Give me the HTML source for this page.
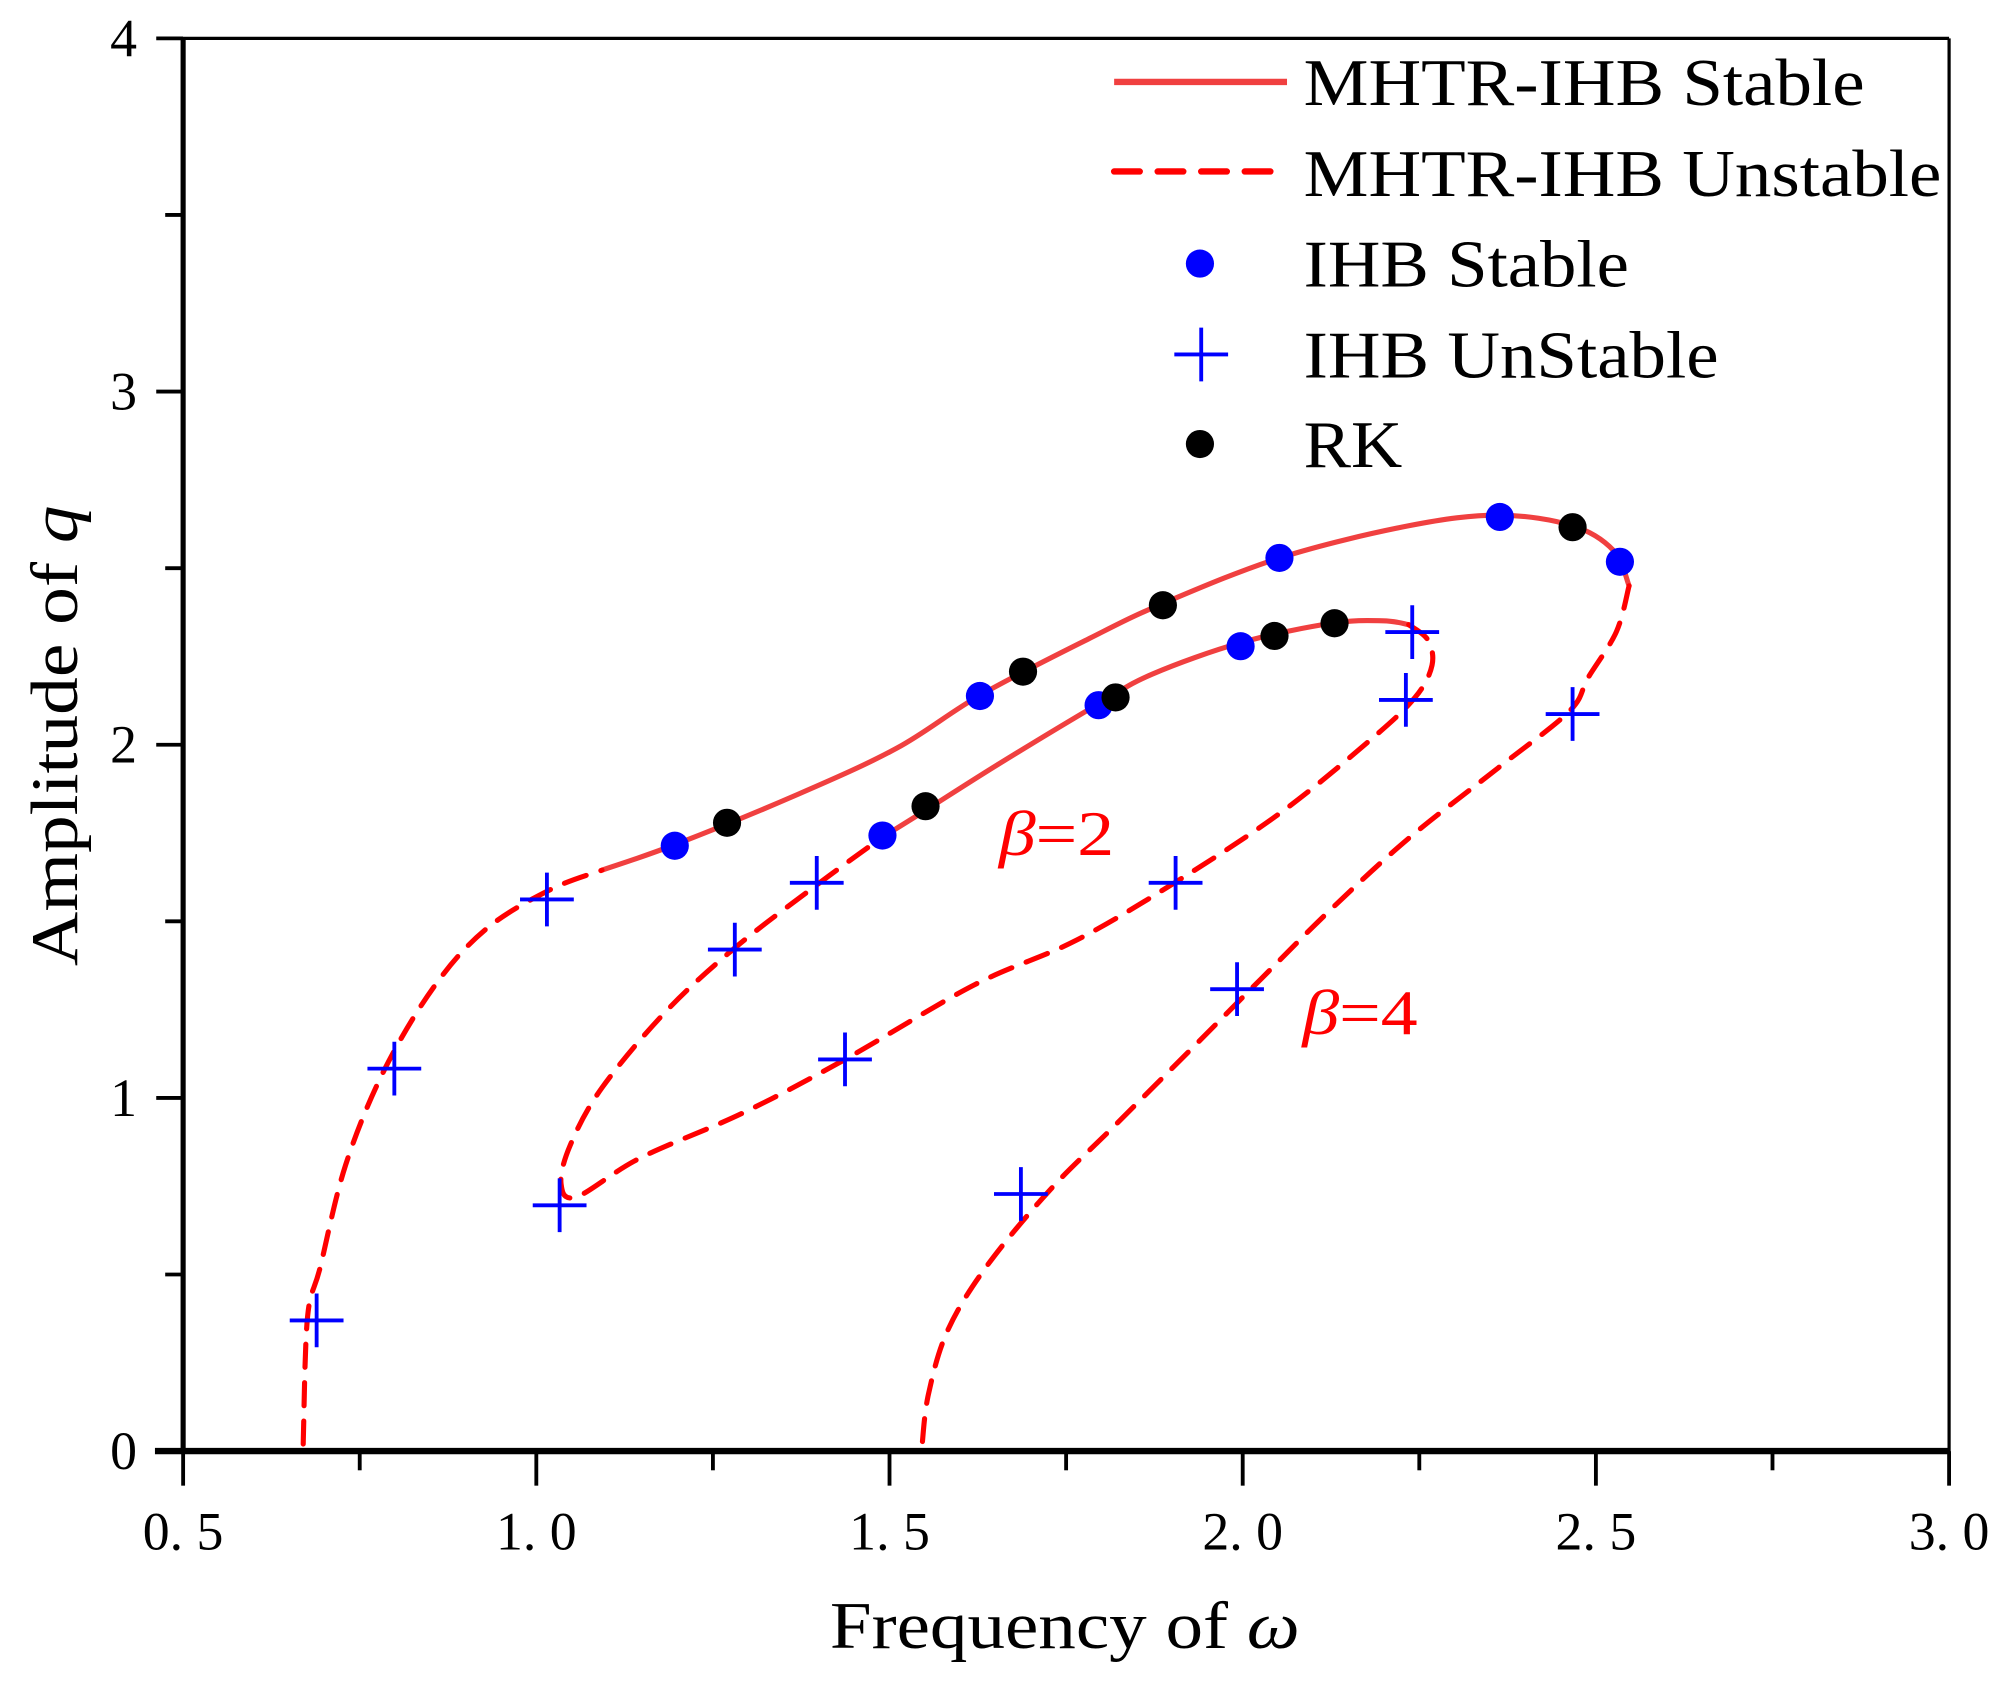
<!DOCTYPE html>
<html><head><meta charset="utf-8"><style>
html,body{margin:0;padding:0;background:#fff;}
svg{display:block;}
text{font-family:"Liberation Serif",serif;}
</style></head><body>
<svg id="chart" width="2008" height="1684" viewBox="0 0 1568 1316" preserveAspectRatio="none" xmlns="http://www.w3.org/2000/svg">
<g id="plot"></g>
<g id="axes"></g>
<g id="legend">
  <line x1="870" y1="64" x2="1005" y2="64" stroke="#f04040" stroke-width="5"/>
  <text x="1018" y="82" font-size="52" textLength="438" lengthAdjust="spacingAndGlyphs">MHTR-IHB Stable</text>
  <line x1="870" y1="134" x2="1005" y2="134" stroke="#ff0000" stroke-width="5" stroke-dasharray="20,14" stroke-linecap="round"/>
  <text x="1018" y="153" font-size="52" textLength="498" lengthAdjust="spacingAndGlyphs">MHTR-IHB Unstable</text>
  <circle cx="937" cy="206" r="11" fill="#0000ff"/>
  <text x="1018" y="224" font-size="52" textLength="254" lengthAdjust="spacingAndGlyphs">IHB Stable</text>
  <path d="M917 277H959M938 256V298" stroke="#0000ff" stroke-width="3"/>
  <text x="1018" y="295" font-size="52" textLength="324" lengthAdjust="spacingAndGlyphs">IHB UnStable</text>
  <circle cx="937" cy="347" r="11" fill="#000"/>
  <text x="1018" y="365" font-size="52" textLength="77" lengthAdjust="spacingAndGlyphs">RK</text>
</g>
<text x="780" y="668" font-size="50" fill="#ff0000" textLength="90" lengthAdjust="spacingAndGlyphs"><tspan font-style="italic">β</tspan>=2</text>
<text x="1017" y="808" font-size="50" fill="#ff0000" textLength="90" lengthAdjust="spacingAndGlyphs"><tspan font-style="italic">β</tspan>=4</text>
<text x="648" y="1288" font-size="52" textLength="367" lengthAdjust="spacingAndGlyphs">Frequency of  <tspan font-style="italic">ω</tspan></text>
<text transform="translate(60,755) rotate(-90)" font-size="52" textLength="360" lengthAdjust="spacingAndGlyphs">Amplitude of <tspan font-style="italic">q</tspan></text>
</svg>
<script>
const xTicks=[0.5,1.0,1.5,2.0,2.5,3.0];
const xTickLabels=["0. 5","1. 0","1. 5","2. 0","2. 5","3. 0"];
const yTicks=[0,1,2,3,4];
const yTickLabels=["0","1","2","3","4"];
const beta4StableX=[1.093,1.196,1.365,1.51,1.628,1.782,1.887,2.054,2.235,2.362,2.467,2.525,2.547];
const beta4StableY=[1.645,1.717,1.855,1.99,2.14,2.30,2.40,2.53,2.62,2.65,2.62,2.55,2.45];
const beta4UnstableLowX=[0.670,0.676,0.694,0.730,0.785,0.857,0.930,1.02,1.093];
const beta4UnstableLowY=[0.02,0.377,0.52,0.81,1.08,1.32,1.48,1.59,1.645];
const beta4UnstableHighX=[2.547,2.529,2.489,2.462,2.362,2.235,2.126,2.026,1.927,1.818,1.727,1.637,1.582,1.555,1.546];
const beta4UnstableHighY=[2.45,2.32,2.19,2.094,1.935,1.735,1.536,1.337,1.138,0.92,0.739,0.522,0.34,0.16,0.015];
const beta2StableX=[1.488,1.546,1.655,1.796,1.872,1.999,2.126,2.199,2.235];
const beta2StableY=[1.736,1.808,1.946,2.116,2.20,2.29,2.344,2.351,2.34];
const beta2UnstableX=[2.235,2.262,2.268,2.244,2.181,2.054,1.909,1.764,1.619,1.437,1.292,1.147,1.057,1.035,1.048,1.093,1.184,1.283,1.401,1.488];
const beta2UnstableY=[2.34,2.297,2.225,2.134,2.014,1.808,1.616,1.446,1.319,1.109,0.957,0.83,0.72,0.757,0.866,1.029,1.246,1.428,1.609,1.736];
const ihbStableX=[1.196,1.490,1.628,1.796,1.997,2.052,2.364,2.534];
const ihbStableY=[1.714,1.743,2.138,2.112,2.279,2.529,2.645,2.518];
const rkX=[1.270,1.551,1.689,1.820,1.887,2.045,2.130,2.467];
const rkY=[1.779,1.826,2.207,2.134,2.395,2.308,2.344,2.616];
const ihbUnstableX=[0.689,0.799,1.015,1.033,1.281,1.397,1.437,1.905,1.992,1.686,2.240,2.231,2.467];
const ihbUnstableY=[0.370,1.083,1.562,0.696,1.42,1.609,1.109,1.609,1.308,0.728,2.319,2.127,2.087];

const X0=143,X1=1522,Y0=1134,Y1=30;
function sx(v){return X0+(v-0.5)/2.5*(X1-X0);}
function sy(v){return Y0-v/4*(Y0-Y1);}
const NS="http://www.w3.org/2000/svg";
const plot=document.getElementById('plot'),axes=document.getElementById('axes');
function mk(tag,attrs,parent){const e=document.createElementNS(NS,tag);for(const k in attrs)e.setAttribute(k,attrs[k]);parent.appendChild(e);return e;}
function smooth(xs,ys){
  const p=xs.map((x,i)=>[sx(x),sy(ys[i])]);
  let d="M"+p[0][0]+" "+p[0][1];
  for(let i=0;i<p.length-1;i++){
    const a=p[Math.max(i-1,0)],b=p[i],c=p[i+1],e=p[Math.min(i+2,p.length-1)];
    const c1=[b[0]+(c[0]-a[0])/6,b[1]+(c[1]-a[1])/6],c2=[c[0]-(e[0]-b[0])/6,c[1]-(e[1]-b[1])/6];
    d+=" C"+c1[0]+" "+c1[1]+" "+c2[0]+" "+c2[1]+" "+c[0]+" "+c[1];
  }
  return d;
}
function curve(xs,ys,name,stable){
  const el=mk('path',{d:smooth(xs,ys),fill:'none',stroke:stable?'#f04040':'#ff0000','stroke-width':4,'stroke-dasharray':stable?'none':'18,12','stroke-linecap':'round'},plot);
  
  
}
curve(beta4StableX,beta4StableY,'beta4-stable-curve',true);
curve(beta4UnstableLowX,beta4UnstableLowY,'beta4-unstable-lower-curve',false);
curve(beta4UnstableHighX,beta4UnstableHighY,'beta4-unstable-upper-curve',false);
curve(beta2StableX,beta2StableY,'beta2-stable-curve',true);
curve(beta2UnstableX,beta2UnstableY,'beta2-unstable-curve',false);
ihbStableX.forEach((x,i)=>{
  const c=mk('circle',{cx:sx(x),cy:sy(ihbStableY[i]),r:11,fill:'#0000ff'},plot);
  
  
});
rkX.forEach((x,i)=>{
  const c=mk('circle',{cx:sx(x),cy:sy(rkY[i]),r:11,fill:'#000'},plot);
  
  
});
ihbUnstableX.forEach((x,i)=>{
  const px=sx(x),py=sy(ihbUnstableY[i]);
  const c=mk('path',{d:`M${px-21} ${py}H${px+21}M${px} ${py-21}V${py+21}`,stroke:'#0000ff','stroke-width':3},plot);
  
  
});
let f=mk('line',{x1:X0,y1:Y1,x2:X1,y2:Y1,stroke:'#000','stroke-width':2.5},axes);

f=mk('line',{x1:X1,y1:Y1,x2:X1,y2:Y0,stroke:'#000','stroke-width':2.5},axes);

f=mk('line',{x1:X0,y1:Y1-1,x2:X0,y2:Y0+2,stroke:'#000','stroke-width':4},axes);

f=mk('line',{x1:X0-22,y1:Y0,x2:X1+1,y2:Y0,stroke:'#000','stroke-width':5},axes);

xTicks.forEach((v,i)=>{
  const x=sx(v);
  let t=mk('line',{x1:x,y1:Y0,x2:x,y2:Y0+27,stroke:'#000','stroke-width':3},axes);
  
  if(i<xTicks.length-1){const m=sx(v+0.25);
    t=mk('line',{x1:m,y1:Y0,x2:m,y2:Y0+15,stroke:'#000','stroke-width':3},axes);
    }
  const l=mk('text',{x:x,y:Y0+77,'font-size':42,'text-anchor':'middle'},axes);
  l.textContent=xTickLabels[i];
  
});
yTicks.forEach((v,i)=>{
  const y=sy(v);
  let t=mk('line',{x1:X0-21,y1:y,x2:X0,y2:y,stroke:'#000','stroke-width':3},axes);
  
  if(i<yTicks.length-1){const m=sy(v+0.5);
    t=mk('line',{x1:X0-14,y1:m,x2:X0,y2:m,stroke:'#000','stroke-width':3},axes);
    }
  const l=mk('text',{x:X0-36,y:y+14,'font-size':42,'text-anchor':'end'},axes);
  l.textContent=yTickLabels[i];
  
});
</script>
</body></html>
